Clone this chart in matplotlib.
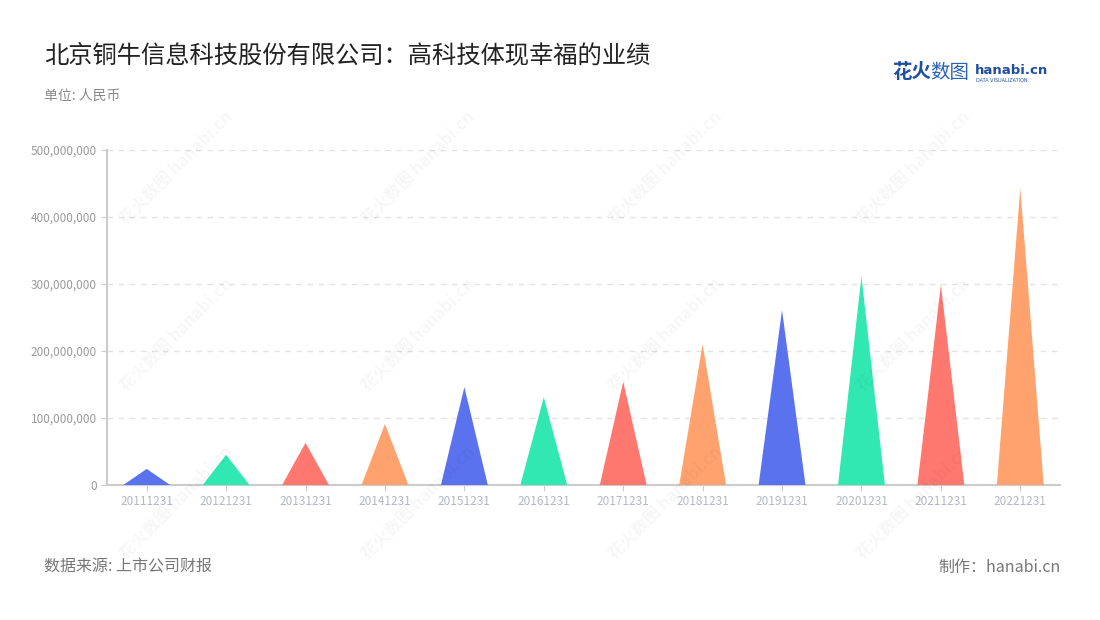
import matplotlib

matplotlib.use('Agg')

import matplotlib.pyplot as plt
from matplotlib.ticker import FuncFormatter

plt.rcParams['font.family'] = ['Noto Sans CJK SC', 'DejaVu Sans']

# 报告期
dates = ["20111231", "20121231", "20131231", "20141231", "20151231", "20161231",
         "20171231", "20181231", "20191231", "20201231", "20211231", "20221231"]
# 业绩 (人民币)
values = [24e6, 45e6, 63e6, 91e6, 146e6, 131e6,
          154e6, 210e6, 261e6, 311e6, 299e6, 443e6]
colors = ["#5A72EE", "#31E8B2", "#FF7870", "#FFA26E"]


def main():
    fig = plt.figure(figsize=(11, 6.2), dpi=100)
    ax = fig.add_axes([107 / 1100, 1 - 485 / 620, (1060 - 107) / 1100, (485 - 150) / 620])

    w = 0.59  # 三角形底宽
    for i, v in enumerate(values):
        ax.fill([i - w / 2, i, i + w / 2], [0, v, 0],
                color=colors[i % len(colors)], linewidth=0, zorder=3)

    ax.set_xlim(-0.5, len(values) - 0.5)
    ax.set_ylim(0, 500e6)
    ax.set_yticks([0, 100e6, 200e6, 300e6, 400e6, 500e6])
    ax.yaxis.set_major_formatter(FuncFormatter(lambda y, p: "{:,.0f}".format(y)))
    ax.set_xticks(range(len(dates)))
    ax.set_xticklabels(dates)

    ax.grid(axis='y', linestyle=(0, (4, 4)), color='#e3e3e3', linewidth=1)
    ax.set_axisbelow(True)
    for s in ['top', 'right']:
        ax.spines[s].set_visible(False)
    for s in ['left', 'bottom']:
        ax.spines[s].set_color('#cccccc')
        ax.spines[s].set_linewidth(1.5)
    ax.tick_params(axis='y', colors='#cccccc', labelcolor='#9a9a9a', labelsize=8.5, length=4)
    ax.tick_params(axis='x', colors='#cccccc', labelcolor='#b4b8c4', labelsize=8.5, length=4)

    # 水印
    for wx in [0.16, 0.38, 0.605, 0.83]:
        for wy in [0.73, 0.46, 0.19]:
            fig.text(wx, wy, "花火数图 hanabi.cn", rotation=45, fontsize=12,
                     color='#000000', alpha=0.035, ha='center', va='center', fontweight='bold')

    fig.text(44 / 1100, 1 - 55 / 620, "北京铜牛信息科技股份有限公司：高科技体现幸福的业绩",
             fontsize=17.5, color='#222222', va='center')
    fig.text(44 / 1100, 1 - 96 / 620, "单位: 人民币", fontsize=10, color='#8a8a8a', va='center')
    fig.text(44 / 1100, 1 - 567 / 620, "数据来源: 上市公司财报", fontsize=11.5, color='#777777', va='center')
    fig.text(1061 / 1100, 1 - 567 / 620, "制作：hanabi.cn", fontsize=11.5, color='#777777',
             va='center', ha='right')

    # logo
    fig.text(892 / 1100, 1 - 73 / 620, "花火", fontsize=14, color='#1f4fa0', va='center',
             fontweight='bold')
    fig.text(930 / 1100, 1 - 73 / 620, "数图", fontsize=14, color='#2a62b8', va='center')
    fig.text(975 / 1100, 1 - 70 / 620, "hanabi.cn", fontsize=9.5, color='#1f4fa0', va='center',
             fontweight='bold', family=['DejaVu Sans'])
    fig.text(976 / 1100, 1 - 80 / 620, "DATA VISUALIZATION", fontsize=3.5, color='#1f4fa0',
             va='center', family=['DejaVu Sans'])

    plt.savefig("out.png", dpi=100)


if __name__ == '__main__':
    main()
